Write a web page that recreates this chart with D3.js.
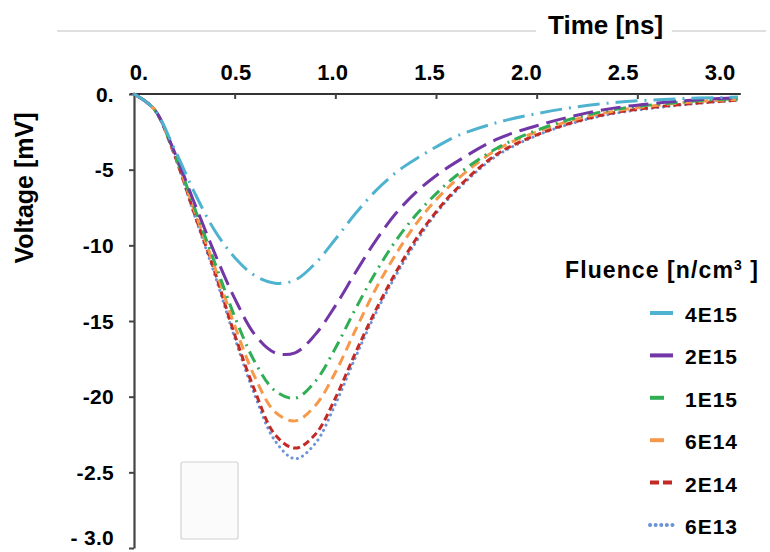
<!DOCTYPE html>
<html>
<head>
<meta charset="utf-8">
<script src="https://cdn.jsdelivr.net/npm/d3@7"></script>
<style>
  body { margin: 0; background: #fff; }
  svg { display: block; }
  text { font-family: "Liberation Sans", Arial, sans-serif; font-weight: bold; fill: #000; }
</style>
</head>
<body>
<div id="chart"><svg class="diagram"></svg></div>
<script>

// time axis [ns]
var times = [0, 0.1, 0.2, 0.3, 0.4, 0.5, 0.6, 0.7, 0.8, 0.9, 1.0, 1.1, 1.2, 1.3, 1.4, 1.5, 1.6, 1.8, 2.0, 2.2, 2.4, 2.6, 2.8, 3.0];

// voltage [mV] for each fluence
var v4E15 = [0, -1.0, -3.6, -6.5, -9.0, -10.8, -12.0, -12.5, -12.3, -11.2, -9.6, -7.9, -6.4, -5.2, -4.3, -3.5, -2.8, -1.9, -1.3, -0.85, -0.55, -0.38, -0.27, -0.2];
var v2E15 = [0, -1.0, -3.8, -7.2, -10.5, -13.5, -15.9, -17.1, -17.1, -15.9, -14.0, -11.8, -9.7, -7.9, -6.5, -5.4, -4.5, -3.0, -2.1, -1.4, -0.9, -0.6, -0.38, -0.25];
var v1E15 = [0, -1.0, -3.9, -7.5, -11.1, -14.7, -17.7, -19.6, -20.1, -19.0, -16.8, -14.2, -11.8, -9.7, -8.0, -6.6, -5.4, -3.6, -2.4, -1.55, -1.0, -0.68, -0.45, -0.3];
var v6E14 = [0, -1.0, -3.9, -7.7, -11.4, -15.3, -18.7, -21.0, -21.6, -20.6, -18.4, -15.6, -12.9, -10.6, -8.6, -7.0, -5.7, -3.7, -2.5, -1.65, -1.1, -0.75, -0.5, -0.35];
var v2E14 = [0, -1.0, -4.0, -7.9, -11.7, -15.9, -19.6, -22.5, -23.4, -22.5, -20.1, -17.1, -14.3, -11.8, -9.6, -7.8, -6.3, -4.0, -2.7, -1.8, -1.2, -0.85, -0.6, -0.4];
var v6E13 = [0, -1.0, -4.0, -8.0, -11.9, -16.1, -19.9, -22.9, -24.1, -23.1, -20.5, -17.4, -14.5, -12.0, -9.8, -7.9, -6.4, -4.1, -2.75, -1.85, -1.25, -0.9, -0.62, -0.42];

var fluences = ["4E15", "2E15", "1E15", "6E14", "2E14", "6E13"];
var xTicks = [0, 0.5, 1.0, 1.5, 2.0, 2.5, 3.0];
var xTickLabels = ["0.", "0.5", "1.0", "1.5", "2.0", "2.5", "3.0"];
var yTicks = [0, -5, -10, -15, -20, -25, -30];
var yTickLabels = ["0.", "-5", "-10", "-15", "-20", "-2.5", "- 3.0"];

var seriesStyle = {
    "4E15": {values: v4E15, color: "#4fb3cf", dash: "22,7,2,7", key: "23"},
    "2E15": {values: v2E15, color: "#7236a6", dash: "20,8", key: "23"},
    "1E15": {values: v1E15, color: "#2fae55", dash: "12,6,2,6", key: "14"},
    "6E14": {values: v6E14, color: "#f7994a", dash: "10,6", key: "14"},
    "2E14": {values: v2E14, color: "#c42a25", dash: "7,4", key: "9,4"},
    "6E13": {values: v6E13, color: "#6b93d6", dash: "0.1,5.5", key: "0.1,5.5", round: true}
};

var width = 770, height = 552;
var margin = {top: 94, left: 134, right: 32, bottom: 4};

var svg = d3.select("#chart").select("svg")
    .attr("width", width).attr("height", height);

var x = d3.scaleLinear().domain([0, 3]).range([margin.left, width - margin.right]);
var y = d3.scaleLinear().domain([0, -30]).range([margin.top, height - margin.bottom]);
// tick labels sit a bit off the tick marks in the original figure
var xLab = d3.scaleLinear().domain([0, 3]).range([139, 720]);

// title line + title
svg.append("line").attr("x1", 57).attr("x2", 536).attr("y1", 31).attr("y2", 31)
    .style("stroke", "#d4d4d4").style("stroke-width", 1.5);
svg.append("line").attr("x1", 672).attr("x2", 766).attr("y1", 31).attr("y2", 31)
    .style("stroke", "#d4d4d4").style("stroke-width", 1.5);
svg.append("text")
    .attr("x", 548).attr("y", 34)
    .style("font-size", "26px")
    .text("Time [ns]");

// top axis (ticks pointing down)
var gx = svg.append("g").attr("transform", "translate(0," + y(0) + ")")
    .call(d3.axisBottom(x).tickValues(xTicks.slice(1, -1)).tickSize(5).tickSizeOuter(0).tickFormat(""));
gx.select(".domain").attr("d", "M" + (x(0) - 3) + ",0H" + (x(3) + 2))
    .style("stroke", "#333").style("stroke-width", 2.2).style("stroke-linecap", "round");
gx.selectAll(".tick line").style("stroke", "#444").style("stroke-width", 2);

svg.append("g").selectAll("text").data(xTicks).enter().append("text")
    .attr("x", function(d){ return xLab(d); })
    .attr("y", 80)
    .attr("text-anchor", "middle")
    .style("font-size", "22px")
    .text(function(d, i){ return xTickLabels[i]; });

// left axis
var gy = svg.append("g").attr("transform", "translate(" + x(0) + ",0)")
    .call(d3.axisLeft(y).tickValues(yTicks).tickSize(5).tickSizeOuter(0)
        .tickFormat(function(d, i){ return yTickLabels[i]; }));
gy.select(".domain").style("stroke", "#444").style("stroke-width", 2.2);
gy.selectAll(".tick line").style("stroke", "#444").style("stroke-width", 2);
gy.selectAll(".tick text")
    .attr("x", -20)
    // last label is lifted so it stays inside the frame
    .attr("dy", function(d){ return d === -30 ? "-0.15em" : "0.34em"; })
    .attr("fill", "#000")
    .style("font-size", "21px")
    .style("letter-spacing", "0.3px");

svg.append("text")
    .attr("transform", "translate(33,188) rotate(-90)")
    .attr("text-anchor", "middle")
    .style("font-size", "25px")
    .text("Voltage [mV]");

// stray box in lower left
svg.append("rect").attr("x", 181).attr("y", 462).attr("width", 57).attr("height", 77)
    .attr("rx", 2).style("fill", "#fbfbfb").style("stroke", "#d2d2d2").style("stroke-width", 1.2);

// curves
var line = d3.line()
    .x(function(d){ return x(d[0]); })
    .y(function(d){ return y(d[1]); })
    .curve(d3.curveCatmullRom.alpha(0.5));

var drawOrder = fluences.slice().reverse();
svg.append("g").selectAll("path").data(drawOrder).enter().append("path")
    .attr("d", function(f){
        return line(times.map(function(t, i){ return [t, seriesStyle[f].values[i]]; }));
    })
    .style("fill", "none")
    .style("stroke", function(f){ return seriesStyle[f].color; })
    .style("stroke-width", 3)
    .style("stroke-dasharray", function(f){ return seriesStyle[f].dash; })
    .style("stroke-linecap", function(f){ return seriesStyle[f].round ? "round" : "butt"; });

// legend
var legend = svg.append("g");
var lt = legend.append("text")
    .attr("x", 565).attr("y", 278).style("font-size", "23px").style("letter-spacing", "1.1px");
lt.append("tspan").text("Fluence [n/cm");
lt.append("tspan").attr("dy", -8).style("font-size", "14px").text("3");
lt.append("tspan").attr("dy", 8).text(" ]");

var ly = d3.scalePoint().domain(fluences).range([322, 534]);
var item = legend.selectAll("g.item").data(fluences).enter().append("g").attr("class", "item")
    .attr("transform", function(f){ return "translate(0," + ly(f) + ")"; });
item.append("line")
    .attr("x1", 650).attr("x2", 673).attr("y1", -9).attr("y2", -9)
    .style("stroke", function(f){ return seriesStyle[f].color; })
    .style("stroke-width", 4)
    .style("stroke-dasharray", function(f){ return seriesStyle[f].key; })
    .style("stroke-linecap", function(f){ return seriesStyle[f].round ? "round" : "butt"; });
item.append("text")
    .attr("x", 685).attr("y", 0)
    .style("font-size", "21px")
    .style("letter-spacing", "1px")
    .text(function(f){ return f; });

</script>
</body>
</html>
